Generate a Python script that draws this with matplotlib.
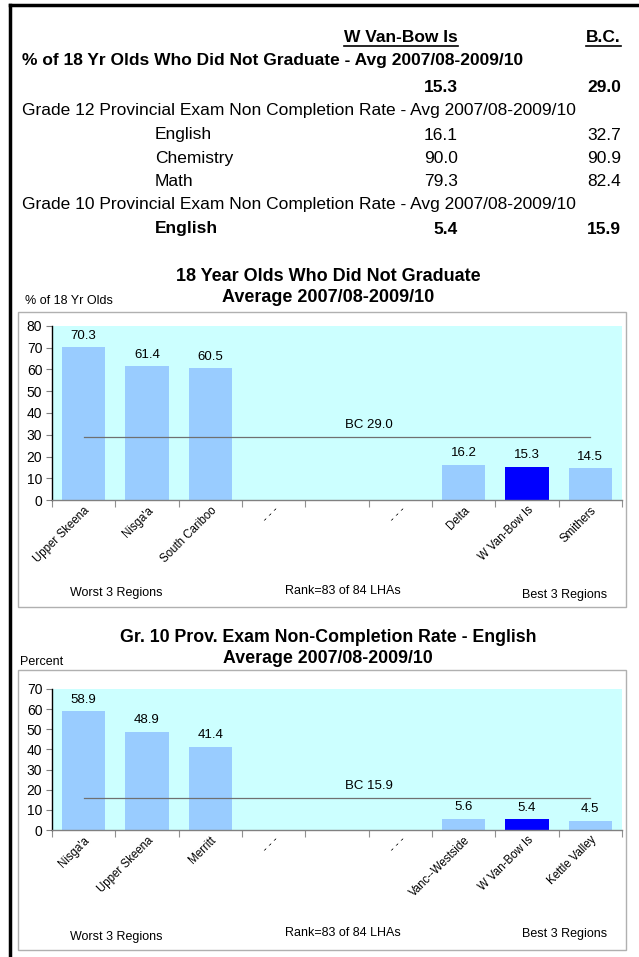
import matplotlib
matplotlib.use("Agg")
import matplotlib.pyplot as plt
from matplotlib.patches import Rectangle
from matplotlib.lines import Line2D

plt.rcParams['font.family'] = ['Liberation Sans', 'DejaVu Sans']

W, H = 639, 957

# ---------------- data ----------------
header_cols = ["W Van-Bow Is", "B.C."]
grad_title = "% of 18 Yr Olds Who Did Not Graduate - Avg 2007/08-2009/10"
grad_vals = ["15.3", "29.0"]
g12_title = "Grade 12 Provincial Exam Non Completion Rate - Avg 2007/08-2009/10"
g12_subjects = ["English", "Chemistry", "Math"]
g12_local = ["16.1", "90.0", "79.3"]
g12_bc = ["32.7", "90.9", "82.4"]
g10_title = "Grade 10 Provincial Exam Non Completion Rate - Avg 2007/08-2009/10"
g10_subject = "English"
g10_vals = ["5.4", "15.9"]

c1_title = "18 Year Olds Who Did Not Graduate\nAverage 2007/08-2009/10"
c1_ylabel = "% of 18 Yr Olds"
c1_cats = ["Upper Skeena", "Nisga'a", "South Cariboo", "- - -", "", "- - -", "Delta", "W Van-Bow Is", "Smithers"]
c1_vals = [70.3, 61.4, 60.5, None, None, None, 16.2, 15.3, 14.5]
c1_bc = 29.0
c1_ymax = 80

c2_title = "Gr. 10 Prov. Exam Non-Completion Rate - English\nAverage 2007/08-2009/10"
c2_ylabel = "Percent"
c2_cats = ["Nisga'a", "Upper Skeena", "Merritt", "- - -", "", "- - -", "Vanc--Westside", "W Van-Bow Is", "Kettle Valley"]
c2_vals = [58.9, 48.9, 41.4, None, None, None, 5.6, 5.4, 4.5]
c2_bc = 15.9
c2_ymax = 70

highlight = "W Van-Bow Is"
rank_text = "Rank=83 of 84 LHAs"

# ---------------- figure ----------------
fig = plt.figure(figsize=(W / 100, H / 100), dpi=100)


def fx(x):
    return x / W


def fy(y):
    return 1 - y / H


# outer frame (left and top lines)
fig.add_artist(Line2D([fx(10), fx(10)], [fy(5), fy(957)], color='black', lw=2.5))
fig.add_artist(Line2D([fx(10), fx(639)], [fy(5), fy(5)], color='black', lw=2.5))

# header table
hfs = 12.5
xl, xr = 458, 621
t1 = fig.text(fx(xl), fy(37), header_cols[0], ha='right', va='center', fontsize=hfs, fontweight='bold')
t2 = fig.text(fx(xr), fy(37), header_cols[1], ha='right', va='center', fontsize=hfs, fontweight='bold')
fig.canvas.draw()
r = fig.canvas.get_renderer()
for t in (t1, t2):
    bb = t.get_window_extent(r)
    yline = bb.y0 - 1
    fig.add_artist(Line2D([bb.x0 / W, bb.x1 / W], [yline / H, yline / H], color='black', lw=1.2))

fig.text(fx(22), fy(61), grad_title, ha='left', va='center', fontsize=hfs, fontweight='bold')
fig.text(fx(xl), fy(87), grad_vals[0], ha='right', va='center', fontsize=hfs, fontweight='bold')
fig.text(fx(xr), fy(87), grad_vals[1], ha='right', va='center', fontsize=hfs, fontweight='bold')
fig.text(fx(22), fy(111), g12_title, ha='left', va='center', fontsize=hfs)
for i, (s, a, b) in enumerate(zip(g12_subjects, g12_local, g12_bc)):
    yy = 135 + i * 23.3
    fig.text(fx(155), fy(yy), s, ha='left', va='center', fontsize=hfs)
    fig.text(fx(xl), fy(yy), a, ha='right', va='center', fontsize=hfs)
    fig.text(fx(xr), fy(yy), b, ha='right', va='center', fontsize=hfs)
fig.text(fx(22), fy(205), g10_title, ha='left', va='center', fontsize=hfs)
fig.text(fx(155), fy(229), g10_subject, ha='left', va='center', fontsize=hfs, fontweight='bold')
fig.text(fx(xl), fy(229), g10_vals[0], ha='right', va='center', fontsize=hfs, fontweight='bold')
fig.text(fx(xr), fy(229), g10_vals[1], ha='right', va='center', fontsize=hfs, fontweight='bold')


def draw_chart(cats, vals, bc, ymax, title, ylabel, box, ax_px, title_y, title_fs, ylab_y, foot_y):
    bx0, by0, bx1, by1 = box
    fig.add_artist(Rectangle((fx(bx0), fy(by1)), (bx1 - bx0) / W, (by1 - by0) / H,
                             transform=fig.transFigure, fill=False, edgecolor='#b0b0b0', lw=1.0))
    ax0, ay_top, ax1, ay_bot = ax_px
    ax = fig.add_axes([fx(ax0), fy(ay_bot), (ax1 - ax0) / W, (ay_bot - ay_top) / H])
    ax.set_facecolor('#CCFFFF')
    n = len(cats)
    xs = list(range(n))
    for x, c, v in zip(xs, cats, vals):
        if v is None:
            continue
        col = '#0000FF' if c == highlight else '#99CCFF'
        ax.bar(x, v, width=0.68, color=col, zorder=2)
        ax.annotate(f"{v:.1f}", (x, v), xytext=(0, 4), textcoords='offset points',
                    ha='center', va='bottom', fontsize=9.5)
    ax.plot([0, n - 1], [bc, bc], color='#707070', lw=0.9, zorder=3)
    ax.annotate(f"BC {bc:.1f}", ((n - 1) / 2 + 0.5, bc), xytext=(0, 4), textcoords='offset points',
                ha='center', va='bottom', fontsize=9.5)
    ax.set_xlim(-0.5, n - 0.5)
    ax.set_ylim(0, ymax)
    ax.set_yticks(range(0, ymax + 1, 10))
    ax.tick_params(axis='y', labelsize=10, length=4, width=0.8, color='#808080', pad=3)
    ax.set_xticks(xs)
    ax.set_xticklabels(cats, rotation=45, ha='right', rotation_mode='anchor', fontsize=8.3)
    ax.tick_params(axis='x', length=0, pad=3)
    ax.set_xticks([i - 0.5 for i in range(n + 1)], minor=True)
    ax.tick_params(axis='x', which='minor', length=5, color='#909090', width=0.8)
    for s in ('top', 'right'):
        ax.spines[s].set_visible(False)
    ax.spines['left'].set_color('black')
    ax.spines['left'].set_linewidth(1.0)
    ax.spines['bottom'].set_color('#808080')
    ax.spines['bottom'].set_linewidth(1.0)
    fig.text(fx(328), fy(title_y), title, ha='center', va='center', fontsize=title_fs,
             fontweight='bold', linespacing=1.35)
    fig.text(fx(ylab_y[0]), fy(ylab_y[1]), ylabel, ha='left', va='center', fontsize=9)
    fig.text(fx(70), fy(foot_y[0]), "Worst 3 Regions", ha='left', va='center', fontsize=9)
    fig.text(fx(343), fy(foot_y[1]), rank_text, ha='center', va='center', fontsize=9)
    fig.text(fx(607), fy(foot_y[2]), "Best 3 Regions", ha='right', va='center', fontsize=9)
    return ax


draw_chart(c1_cats, c1_vals, c1_bc, c1_ymax, c1_title, c1_ylabel,
           (18, 312, 626, 607), (52, 326, 622, 500), 287, 13, (25, 301), (593, 591, 595))
draw_chart(c2_cats, c2_vals, c2_bc, c2_ymax, c2_title, c2_ylabel,
           (18, 670, 626, 950), (52, 689, 622, 830), 648, 12.8, (20, 662), (937, 933, 934))

fig.savefig("out.png", dpi=100)
